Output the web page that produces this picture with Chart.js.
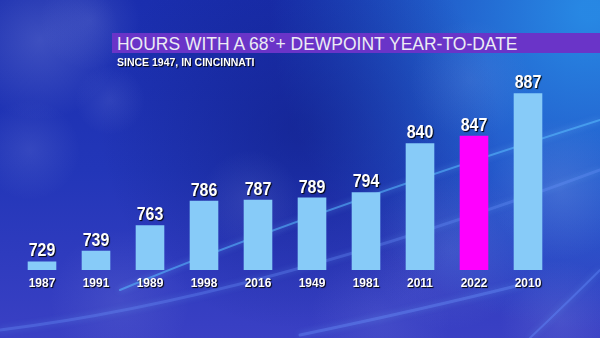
<!DOCTYPE html>
<html>
<head>
<meta charset="utf-8">
<script src="https://cdn.jsdelivr.net/npm/chart.js@4"></script>
<style>
  html, body { margin: 0; padding: 0; }
  body { width: 600px; height: 338px; overflow: hidden; position: relative; background: #1d32b4; }
  #chartWrap { position: absolute; left: 0; top: 0; width: 600px; height: 338px; }
  #titleBar {
    position: absolute; left: 112px; top: 33px; width: 488px; height: 20px;
    background: #6a34c8; box-sizing: border-box; white-space: nowrap; overflow: hidden;
  }
  #titleBar span {
    display: inline-block; margin-left: 5px; color: #ececf4;
    font: 19px "Liberation Sans", Arial, sans-serif; line-height: 21px;
    transform: scaleX(0.92); transform-origin: left center;
  }
  #subTitle {
    position: absolute; left: 117px; top: 56px;
    color: #fff; font: bold 10.5px "Liberation Sans", Arial, sans-serif;
    text-shadow: 1px 1px 1px #000; white-space: nowrap;
  }
</style>
</head>
<body>
<div id="chartWrap"><canvas id="hoursChart" width="600" height="338"></canvas></div>
<div id="titleBar"><span>HOURS WITH A 68°+ DEWPOINT YEAR-TO-DATE</span></div>
<div id="subTitle">SINCE 1947, IN CINCINNATI</div>
<script>
const years = ['1987', '1991', '1989', '1998', '2016', '1949', '1981', '2011', '2022', '2010'];
const hours = [729, 739, 763, 786, 787, 789, 794, 840, 847, 887];
const highlightYear = '2022';

const labelFont = '"Liberation Sans", Arial, sans-serif';

// sky backdrop: gradient, soft clouds and light streaks
const skyBackground = {
  id: 'skyBackground',
  beforeDraw(chart) {
    const ctx = chart.ctx;
    const w = chart.width, h = chart.height;
    ctx.save();
    let g = ctx.createLinearGradient(0, 0, 0, h);
    g.addColorStop(0, '#1a2eae');
    g.addColorStop(0.5, '#2236b8');
    g.addColorStop(1, '#3a40c4');
    ctx.fillStyle = g;
    ctx.fillRect(0, 0, w, h);

    // brighter blue toward the top right
    g = ctx.createRadialGradient(590, 10, 10, 590, 10, 320);
    g.addColorStop(0, 'rgba(40,140,230,0.95)');
    g.addColorStop(1, 'rgba(40,140,230,0)');
    ctx.fillStyle = g;
    ctx.fillRect(0, 0, w, h);

    // darker band behind the middle bars
    g = ctx.createRadialGradient(300, 130, 10, 300, 130, 200);
    g.addColorStop(0, 'rgba(10,25,120,0.45)');
    g.addColorStop(1, 'rgba(10,25,120,0)');
    ctx.fillStyle = g;
    ctx.fillRect(0, 0, w, h);

    const clouds = [
      [40, 40, 80, 0.24], [90, 20, 50, 0.15], [110, 100, 35, 0.12],
      [30, 150, 50, 0.14], [470, 80, 60, 0.12], [560, 190, 70, 0.2],
      [450, 250, 80, 0.15], [250, 200, 50, 0.12], [120, 300, 70, 0.12],
      [560, 320, 60, 0.15], [380, 320, 70, 0.1]
    ];
    clouds.forEach(([x, y, r, a]) => {
      const cg = ctx.createRadialGradient(x, y, 0, x, y, r);
      cg.addColorStop(0, `rgba(170,180,240,${a})`);
      cg.addColorStop(1, 'rgba(170,180,240,0)');
      ctx.fillStyle = cg;
      ctx.fillRect(x - r, y - r, r * 2, r * 2);
    });

    // light streaks
    ctx.lineCap = 'round';
    const streaks = [
      { pts: [120, 290, 300, 215, 600, 120], c: 'rgba(90,190,255,0.55)', lw: 2 },
      { pts: [0, 330, 250, 300, 600, 170], c: 'rgba(110,150,255,0.3)', lw: 3 },
      { pts: [300, 335, 420, 310, 520, 285], c: 'rgba(110,150,255,0.35)', lw: 3 },
      { pts: [530, 338, 570, 300, 600, 270], c: 'rgba(100,140,255,0.4)', lw: 2 }
    ];
    streaks.forEach(s => {
      ctx.strokeStyle = s.c;
      ctx.lineWidth = s.lw;
      ctx.shadowColor = 'rgba(120,190,255,0.8)';
      ctx.shadowBlur = 6;
      ctx.beginPath();
      ctx.moveTo(s.pts[0], s.pts[1]);
      ctx.quadraticCurveTo(s.pts[2], s.pts[3], s.pts[4], s.pts[5]);
      ctx.stroke();
    });
    ctx.restore();
  }
};

// condensed white text with a dark drop shadow
function shadowText(ctx, text, x, y, size, squeeze) {
  ctx.save();
  ctx.font = `bold ${size}px ${labelFont}`;
  ctx.fillStyle = '#ffffff';
  ctx.textAlign = 'center';
  ctx.textBaseline = 'alphabetic';
  ctx.shadowColor = 'rgba(0,0,0,0.95)';
  ctx.shadowOffsetX = 1;
  ctx.shadowOffsetY = 1;
  ctx.shadowBlur = 1;
  ctx.translate(x, y);
  ctx.scale(squeeze, 1);
  ctx.fillText(text, 0, 0);
  ctx.restore();
}

// value above each bar and year beneath it
const barLabels = {
  id: 'barLabels',
  afterDatasetsDraw(chart) {
    const ctx = chart.ctx;
    const meta = chart.getDatasetMeta(0);
    const base = chart.chartArea.bottom;
    meta.data.forEach((bar, i) => {
      shadowText(ctx, String(hours[i]), bar.x, bar.y - 5, 18, 0.89);
      shadowText(ctx, years[i], bar.x, base + 16.5, 13, 0.92);
    });
  }
};

new Chart(document.getElementById('hoursChart'), {
  type: 'bar',
  data: {
    labels: years,
    datasets: [{
      data: hours,
      backgroundColor: years.map(y => y === highlightYear ? '#ff00ff' : '#87cbf8'),
      borderWidth: 0,
      barPercentage: 0.53,
      categoryPercentage: 1
    }]
  },
  options: {
    responsive: false,
    animation: false,
    layout: { padding: { left: 15, right: 45, top: 40, bottom: 68 } },
    plugins: { legend: { display: false }, tooltip: { enabled: false } },
    scales: {
      y: { display: false, min: 721, max: 937 },
      x: { display: false }
    }
  },
  plugins: [skyBackground, barLabels]
});
</script>
</body>
</html>
